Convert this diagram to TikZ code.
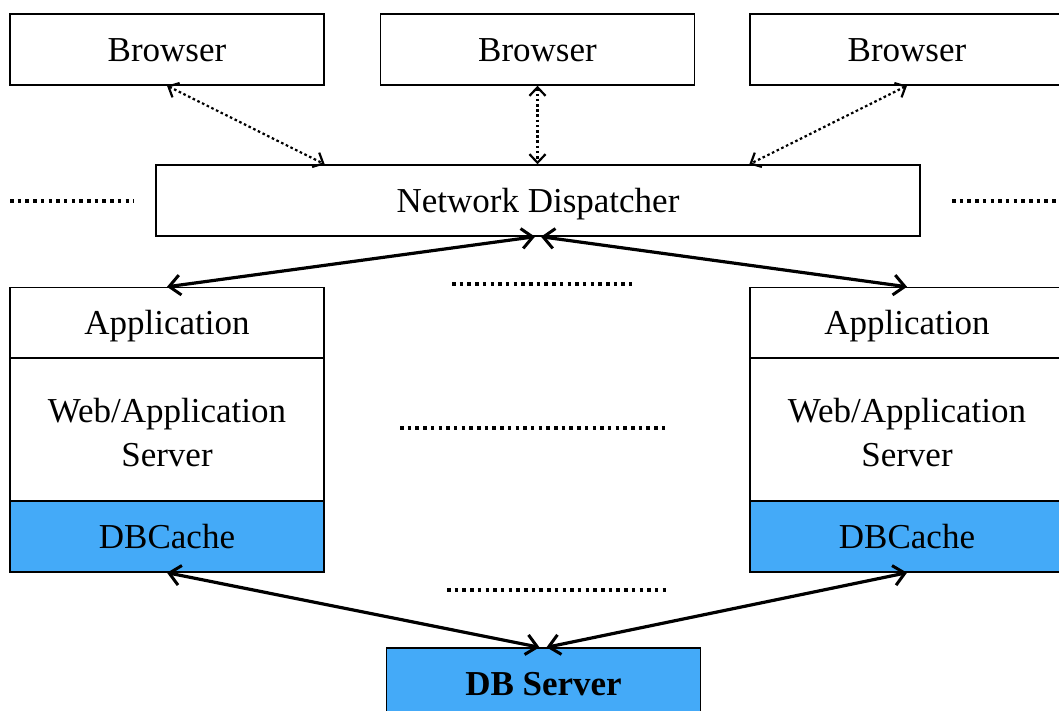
\documentclass[tikz,border=0pt]{standalone}
\usepackage{fontspec}
\setmainfont{Liberation Serif}
\usetikzlibrary{arrows.meta,calc}
\definecolor{cachefill}{RGB}{68,170,248}
\tikzset{
  box/.style={draw=black, line width=1.4pt, minimum width=314pt, minimum height=71pt,
    inner sep=0pt, font=\fontsize{35}{42}\selectfont, align=center,
    text height=23.5pt, text depth=0pt},
  tallbox/.style={box, minimum height=143pt, text height=, text depth=},
  cachebox/.style={box, fill=cachefill},
  link/.style={line width=3.2pt, {Straight Barb[length=11pt,width=20pt,line width=3pt]}-{Straight Barb[length=11pt,width=20pt,line width=3pt]}},
  netlink/.style={line width=2.2pt, dash pattern=on 2.6pt off 2.6pt,
    {Straight Barb[length=8.5pt,width=16pt,line width=2.2pt]}-{Straight Barb[length=8.5pt,width=16pt,line width=2.2pt]}},
  etc/.style={line width=3.5pt, dash pattern=on 3.5pt off 4.2pt}
}
\begin{document}
\begin{tikzpicture}[x=1pt,y=-1pt]
\useasboundingbox (0,0) rectangle (1059,711);
\begin{scope}
\clip (0,0) rectangle (1059,711);
% browsers
\node[box] (b1) at (167,49.5) {Browser};
\node[box] (b2) at (537.5,49.5) {Browser};
\node[box] (b3) at (907,49.5) {Browser};
% dispatcher
\node[box, minimum width=764pt] (nd) at (538,200.5) {Network Dispatcher};
% left application stack
\node[box] (app1) at (167,323) {Application};
\node[tallbox] (was1) at (167,429.5) {\rule{0pt}{31pt}Web/Application\\[2pt]Server};
\node[cachebox] (c1) at (167,536.5) {DBCache};
% right application stack
\node[box] (app2) at (907,323) {Application};
\node[tallbox] (was2) at (907,429.5) {\rule{0pt}{31pt}Web/Application\\[2pt]Server};
\node[cachebox] (c2) at (907,536.5) {DBCache};
% database
\node[cachebox, font=\fontsize{35}{42}\selectfont\bfseries] (db) at (543.5,683.5) {DB Server};
\end{scope}
% browser connections
\draw[netlink] (b1.south) -- (nd.north -| b1.east);
\draw[netlink] (b2.south) -- (nd.north -| b2.south);
\draw[netlink] (b3.south) -- (nd.north -| b3.west);
% dispatcher to application servers
\draw[link] (app1.north) -- ([xshift=-3pt]nd.south);
\draw[link] ([xshift=3pt]nd.south) -- (app2.north);
% caches to database
\draw[link] (c1.south) -- ([xshift=-4pt]db.north);
\draw[link] ([xshift=3pt]db.north) -- (c2.south);
% ellipses
\coordinate (e1a) at (10,201); \coordinate (e1b) at (134,201);
\coordinate (e2a) at (952,201); \coordinate (e2b) at (1059,201);
\coordinate (e3a) at (452,284); \coordinate (e3b) at (632,284);
\coordinate (e4a) at (400,428); \coordinate (e4b) at (666,428);
\coordinate (e5a) at (447,590); \coordinate (e5b) at (666,590);
\draw[etc] (e1a) -- (e1b);
\draw[etc] (e2a) -- (e2b);
\draw[etc] (e3a) -- (e3b);
\draw[etc] (e4a) -- (e4b);
\draw[etc] (e5a) -- (e5b);
\end{tikzpicture}
\end{document}
